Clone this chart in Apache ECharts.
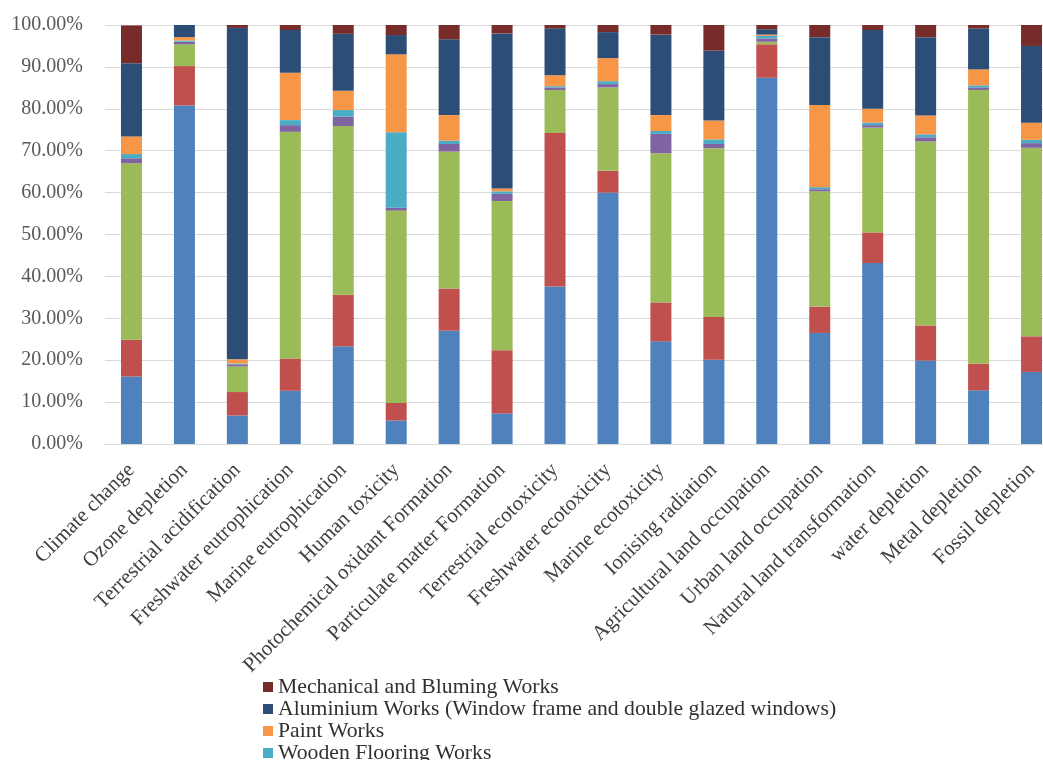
<!DOCTYPE html>
<html>
<head>
<meta charset="utf-8">
<script src="https://cdn.jsdelivr.net/npm/echarts@6/dist/echarts.min.js"></script>
<style>
  html, body { margin: 0; padding: 0; background: #ffffff; }
  #chart { width: 1043px; height: 760px; }
</style>
</head>
<body>
<div id="chart"></div>
<script>
// Impact categories (x axis)
const categories = [
  'Climate change', 'Ozone depletion', 'Terrestrial acidification',
  'Freshwater eutrophication', 'Marine eutrophication', 'Human toxicity',
  'Photochemical oxidant Formation', 'Particulate matter Formation',
  'Terrestrial ecotoxicity', 'Freshwater ecotoxicity', 'Marine ecotoxicity',
  'Ionising radiation', 'Agricultural land occupation', 'Urban land occupation',
  'Natural land transformation', 'water depletion', 'Metal depletion', 'Fossil depletion'
];

// Share of each work package (%), stacked from the bottom up
const concreteWorks = [16.1, 80.8, 6.8, 12.7, 23.3, 5.6, 27.0, 7.3, 37.6, 60.0, 24.5, 20.1, 87.4, 26.5, 43.2, 19.9, 12.8, 17.2];
const steelWorks    = [8.8, 9.4, 5.6, 7.7, 12.3, 4.2, 10.1, 15.1, 36.6, 5.2, 9.3, 10.2, 8.0, 6.3, 7.3, 8.4, 6.4, 8.5];
const masonryWorks  = [42.1, 5.2, 6.1, 54.1, 40.3, 45.9, 32.7, 35.6, 10.3, 19.9, 35.6, 40.3, 0.6, 27.5, 25.0, 43.9, 65.3, 45.0];
const tilingWorks   = [1.2, 0.6, 0.5, 1.6, 2.2, 0.7, 1.8, 1.7, 0.6, 0.8, 4.6, 1.0, 0.8, 0.5, 0.6, 1.0, 0.6, 1.1];
const woodenFlooring = [1.0, 0.3, 0.2, 1.2, 1.6, 18.0, 0.8, 0.6, 0.3, 0.7, 0.7, 1.1, 0.6, 0.5, 0.6, 0.7, 0.5, 0.8];
const paintWorks    = [4.2, 0.8, 1.0, 11.3, 4.6, 18.6, 6.1, 0.7, 2.6, 5.5, 3.8, 4.5, 0.3, 19.6, 3.3, 4.5, 3.8, 4.1];
const aluminiumWorks = [17.5, 2.9, 79.1, 10.2, 13.6, 4.6, 18.1, 37.0, 11.2, 6.2, 19.2, 16.7, 1.3, 16.2, 18.8, 18.7, 9.8, 18.3];
const mechanicalWorks = [9.0, 0.0, 0.7, 1.2, 2.1, 2.4, 3.4, 2.0, 0.8, 1.7, 2.3, 6.1, 1.0, 2.9, 1.2, 2.9, 0.8, 5.0];

// Y axis tick values (%)
const yTicks = [0, 10, 20, 30, 40, 50, 60, 70, 80, 90, 100];

const seriesDefs = [
  { name: 'Concrete Works', data: concreteWorks, color: '#4F81BD' },
  { name: 'Steel Works', data: steelWorks, color: '#C0504D' },
  { name: 'Masonry Works', data: masonryWorks, color: '#9BBB59' },
  { name: 'Tiling Works', data: tilingWorks, color: '#8064A2' },
  { name: 'Wooden Flooring Works', data: woodenFlooring, color: '#4BACC6' },
  { name: 'Paint Works', data: paintWorks, color: '#F79646' },
  { name: 'Aluminium Works (Window frame and double glazed windows)', data: aluminiumWorks, color: '#2C4D75' },
  { name: 'Mechanical and Bluming Works', data: mechanicalWorks, color: '#772C2A' }
];

const serif = '"Liberation Serif", "DejaVu Serif", serif';

const chart = echarts.init(document.getElementById('chart'), null, { renderer: 'canvas' });

chart.setOption({
  animation: false,
  backgroundColor: '#ffffff',
  // the plot runs past the right edge of the canvas; keep the grid unconstrained
  grid: { left: 105, top: 25, width: 953, height: 419, containLabel: false, outerBoundsMode: 'none' },
  legend: {
    orient: 'vertical',
    left: 258,
    top: 671,
    height: 200,
    itemWidth: 10,
    itemHeight: 10,
    itemGap: 0,
    icon: 'rect',
    data: [
      'Mechanical and Bluming Works',
      'Aluminium Works (Window frame and double glazed windows)',
      'Paint Works',
      'Wooden Flooring Works'
    ],
    textStyle: { fontFamily: serif, fontSize: 21.7, color: '#303030', lineHeight: 22 }
  },
  xAxis: {
    type: 'category',
    data: categories,
    axisLine: { show: true, lineStyle: { color: '#d9d9d9', width: 1 } },
    axisTick: { show: false },
    axisLabel: {
      interval: 0,
      rotate: 45,
      margin: 23,
      fontFamily: serif,
      fontSize: 21,
      color: '#404040'
    }
  },
  yAxis: {
    type: 'value',
    min: 0,
    max: 100,
    interval: 10,
    axisLine: { show: false },
    axisTick: { show: false },
    splitLine: { show: true, lineStyle: { color: '#d9d9d9', width: 1 } },
    axisLabel: {
      margin: 22,
      fontFamily: serif,
      fontSize: 20,
      color: '#595959',
      formatter: v => yTicks.includes(v) ? v.toFixed(2) + '%' : ''
    }
  },
  series: seriesDefs.map(s => ({
    name: s.name,
    type: 'bar',
    stack: 'total',
    barWidth: 21,
    data: s.data,
    itemStyle: { color: s.color },
    emphasis: { disabled: true }
  }))
});
</script>
</body>
</html>
